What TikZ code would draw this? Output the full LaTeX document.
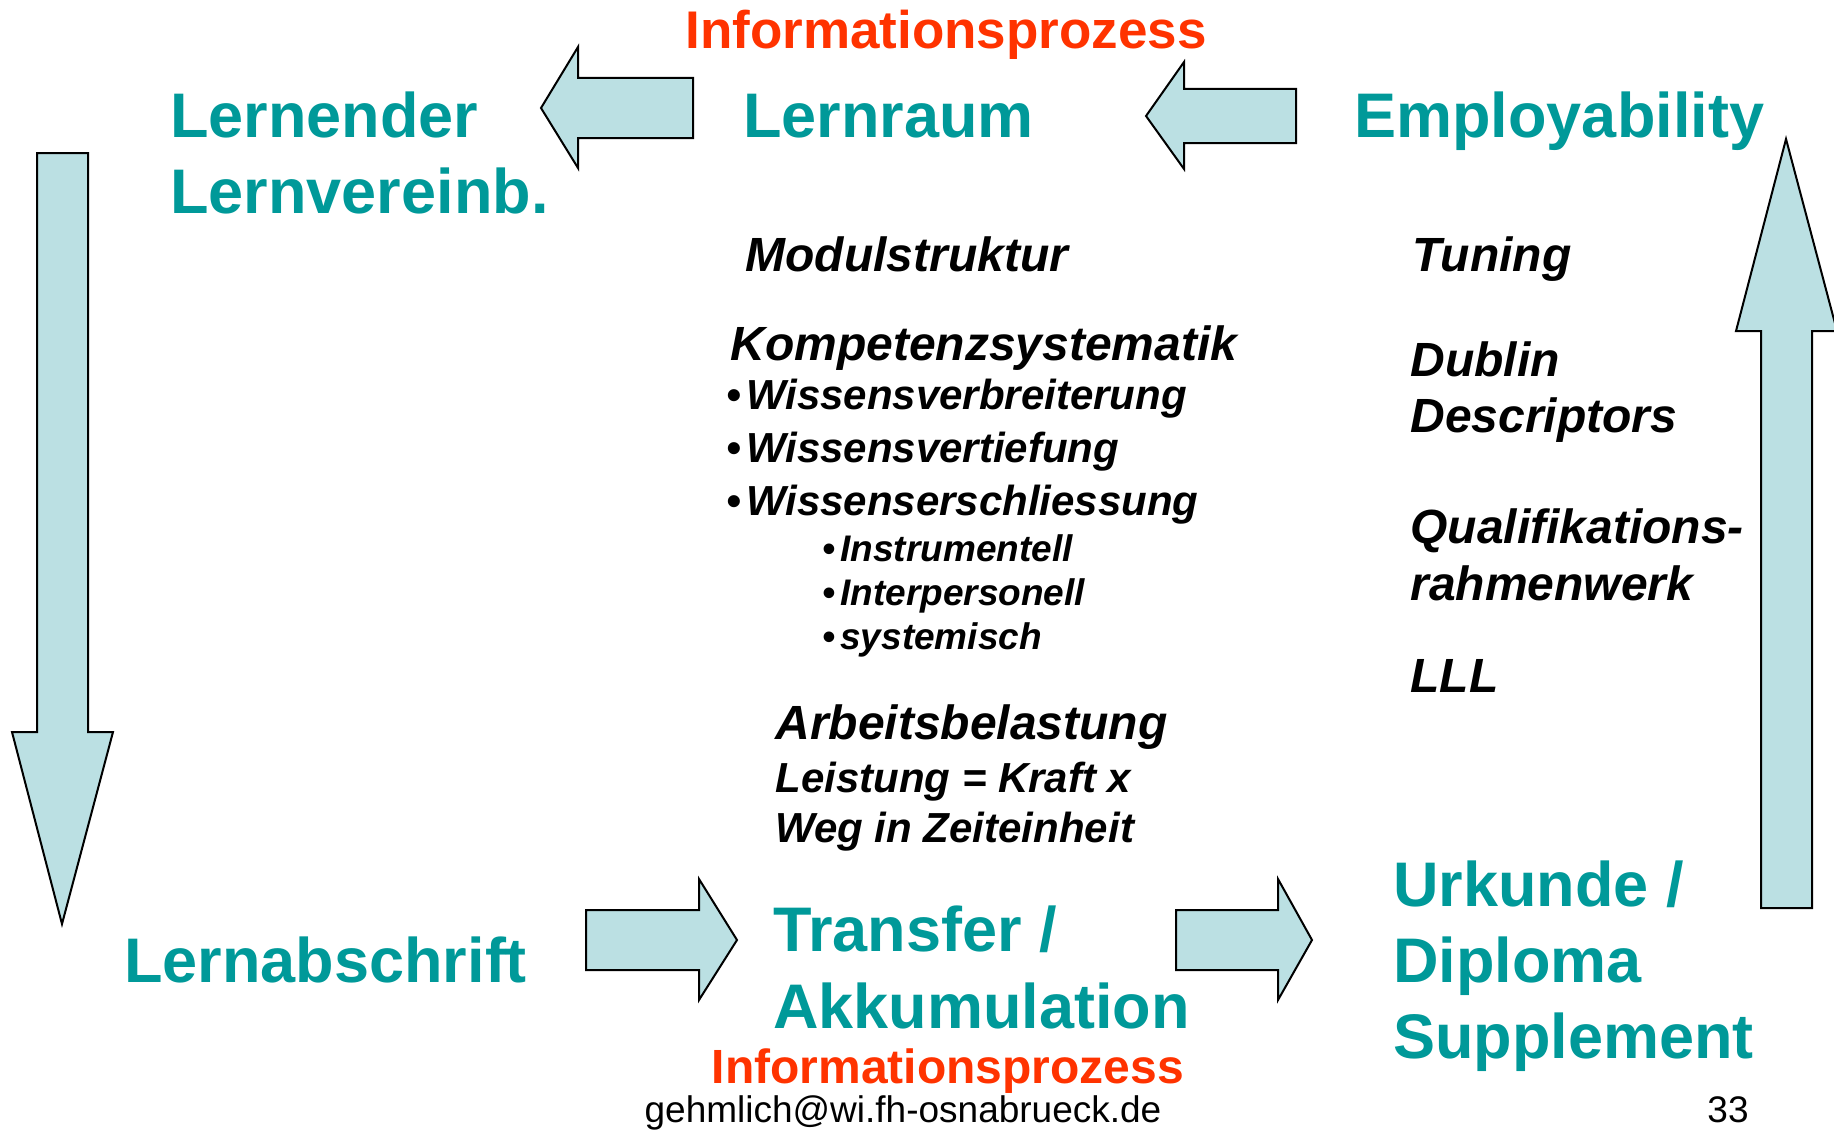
\documentclass[tikz,border=0pt]{standalone}
\usepackage{fontspec}
\setmainfont{Liberation Sans}
\usetikzlibrary{positioning}
\definecolor{lernteal}{HTML}{009999}
\definecolor{infored}{HTML}{FF3300}
\definecolor{pfeilblau}{HTML}{BBE0E3}
\newcommand{\bul}{\textbullet\hspace{2.5pt}}
\tikzset
{%
kopf/.style={text=lernteal, font=\fontsize{31.5}{38}\selectfont\bfseries, inner sep=0, anchor=base west},
info/.style={text=infored, inner sep=0, anchor=base},
stich/.style={font=\fontsize{24}{29}\selectfont\bfseries\itshape, inner sep=0, anchor=base west},
punkt/.style={stich, font=\fontsize{21}{25}\selectfont\bfseries\itshape},
unterpunkt/.style={stich, font=\fontsize{18.5}{22}\selectfont\bfseries\itshape},
pfeil/.style={draw=black, fill=pfeilblau, line width=1pt, line join=miter}
}
\begin{document}
\begin{tikzpicture}[x=0.5pt, y=-0.5pt]
	\useasboundingbox (0,0) rectangle (1834,1129);
	
	% ARROWS
	%top left
	\draw[pfeil] (693,78) -- (578,78) -- (578,47) -- (541,108) -- (578,168) -- (578,138) -- (693,138) -- cycle;
	%top right
	\draw[pfeil] (1296,89) -- (1184,89) -- (1184,62) -- (1146,116) -- (1184,169) -- (1184,143) -- (1296,143) -- cycle;
	%left, down
	\draw[pfeil] (37,153) -- (37,732) -- (12,732) -- (62,924) -- (113,732) -- (88,732) -- (88,153) -- cycle;
	%right, up
	\draw[pfeil] (1761,908) -- (1761,331) -- (1736,331) -- (1786,139) -- (1837,331) -- (1812,331) -- (1812,908) -- cycle;
	%bottom left
	\draw[pfeil] (586,910) -- (699,910) -- (699,879) -- (737,940) -- (699,1000) -- (699,970) -- (586,970) -- cycle;
	%bottom right
	\draw[pfeil] (1176,910) -- (1278,910) -- (1278,879) -- (1312,940) -- (1278,1000) -- (1278,970) -- (1176,970) -- cycle;
	
	% HEADINGS
	\node[info, font=\fontsize{26.5}{32}\selectfont\bfseries] (infooben) at (946,49) {Informationsprozess};
	\node[kopf] (lernender) at (170,137) {Lernender};
	\node[kopf] (lernvereinb) at ([yshift=-38pt]lernender.base west) {Lernvereinb.};
	\node[kopf] (lernraum) at (743,137) {Lernraum};
	\node[kopf] (employ) at (1354,137) {Employability};
	\node[kopf] (lernab) at (124,982) {Lernabschrift};
	\node[kopf] (transfer) at (773,951) {Transfer /};
	\node[kopf] (akku) at ([yshift=-38.5pt]transfer.base west) {Akkumulation};
	\node[kopf] (urkunde) at (1393,906) {Urkunde /};
	\node[kopf] (diploma) at ([yshift=-38pt]urkunde.base west) {Diploma};
	\node[kopf] (supplement) at ([yshift=-38pt]diploma.base west) {Supplement};
	\node[info, font=\fontsize{24}{29}\selectfont\bfseries] (infounten) at (948,1083) {Informationsprozess};
	
	% MIDDLE COLUMN
	\node[stich] (modul) at (745,271) {Modulstruktur};
	\node[stich] (kompetenz) at (730,360) {Kompetenzsystematik};
	\node[punkt] (wv1) at (726,409) {\bul Wissensverbreiterung};
	\node[punkt] (wv2) at ([yshift=-26.5pt]wv1.base west) {\bul Wissensvertiefung};
	\node[punkt] (wv3) at ([yshift=-26.5pt]wv2.base west) {\bul Wissenserschliessung};
	\node[unterpunkt] (instr) at (822,561) {\bul Instrumentell};
	\node[unterpunkt] (interp) at ([yshift=-22pt]instr.base west) {\bul Interpersonell};
	\node[unterpunkt] (syst) at ([yshift=-22pt]interp.base west) {\bul systemisch};
	\node[stich] (arbeit) at (775,739) {Arbeitsbelastung};
	\node[punkt] (leistung) at (775,792) {Leistung = Kraft x};
	\node[punkt] (weg) at ([yshift=-25pt]leistung.base west) {Weg in Zeiteinheit};
	
	% RIGHT COLUMN
	\node[stich] (tuning) at (1412,271) {Tuning};
	\node[stich] (dublin) at (1410,376) {Dublin};
	\node[stich] (descr) at ([yshift=-28pt]dublin.base west) {Descriptors};
	\node[stich] (quali) at (1410,543) {Qualifikations-};
	\node[stich] (rahmen) at ([yshift=-28.5pt]quali.base west) {rahmenwerk};
	\node[stich] (lll) at (1410,692) {LLL};
	
	% FOOTER
	\node[inner sep=0, anchor=base, font=\fontsize{18.5}{22}\selectfont] (mail) at (903,1122) {gehmlich@wi.fh-osnabrueck.de};
	\node[inner sep=0, anchor=base east, font=\fontsize{18.5}{22}\selectfont] (seite) at (1749,1122) {33};
\end{tikzpicture}
\end{document}
